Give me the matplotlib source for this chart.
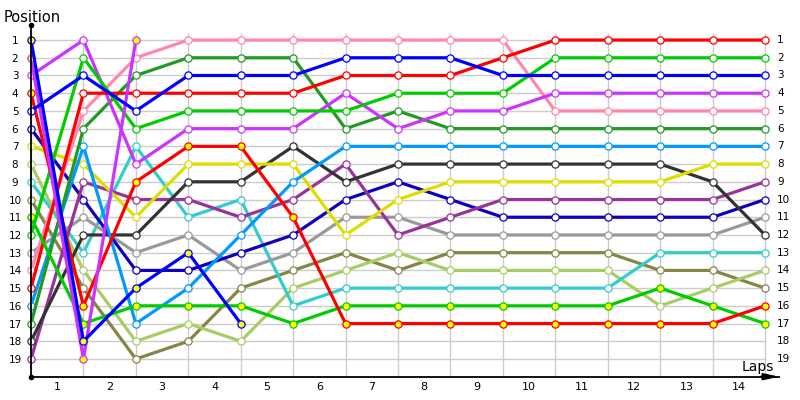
import matplotlib.pyplot as plt

laps = list(range(15))
lap_labels = [str(i) for i in range(1, 15)]
positions = list(range(1, 20))

# positions per lap boundary (0..14)
red = [15, 4, 4, 4, 4, 4, 3, 3, 3, 2, 1, 1, 1, 1, 1]
green = [12, 2, 6, 5, 5, 5, 5, 4, 4, 4, 2, 2, 2, 2, 2]
blue = [5, 3, 5, 3, 3, 3, 2, 2, 2, 3, 3, 3, 3, 3, 3]
magenta = [3, 1, 8, 6, 6, 6, 4, 6, 5, 5, 4, 4, 4, 4, 4]
pink = [14, 5, 2, 1, 1, 1, 1, 1, 1, 1, 5, 5, 5, 5, 5]
dark_green = [17, 6, 3, 2, 2, 2, 6, 5, 6, 6, 6, 6, 6, 6, 6]
light_blue = [16, 7, 17, 15, 12, 9, 7, 7, 7, 7, 7, 7, 7, 7, 7]
yellow = [7, 8, 11, 8, 8, 8, 12, 10, 9, 9, 9, 9, 9, 8, 8]
purple = [19, 9, 10, 10, 11, 10, 8, 12, 11, 10, 10, 10, 10, 10, 9]
dark_blue = [6, 10, 14, 14, 13, 12, 10, 9, 10, 11, 11, 11, 11, 11, 10]
gray = [13, 11, 13, 12, 14, 13, 11, 11, 12, 12, 12, 12, 12, 12, 11]
dark_gray = [18, 12, 12, 9, 9, 7, 9, 8, 8, 8, 8, 8, 8, 9, 12]
teal = [9, 13, 7, 11, 10, 16, 15, 15, 15, 15, 15, 15, 13, 13, 13]
light_green = [8, 14, 18, 17, 18, 15, 14, 13, 14, 14, 14, 14, 16, 15, 14]
olive = [10, 15, 19, 18, 15, 14, 13, 14, 13, 13, 13, 13, 14, 14, 15]
red_2 = [4, 16, 9, 7, 7, 11, 17, 17, 17, 17, 17, 17, 17, 17, 16]
green_2 = [11, 17, 16, 16, 16, 17, 16, 16, 16, 16, 16, 16, 15, 16, 17]
blue_2 = [1, 18, 15, 13, 17]
magenta_2 = [2, 19, 1]

fig = plt.figure(figsize=(8, 4), dpi=100)
ax = fig.add_axes([31 / 800, 23.3 / 400, 748 / 800, 351.7 / 400])
ax.set_xlim(0, 748 / 52.43)
ax.set_ylim(20, 0.15)

# grid
ax.vlines(laps, 0.6, 20, color="#cccccc", lw=1, zorder=0)
ax.hlines(positions, 0, 14, color="#cccccc", lw=1, zorder=0)

series = [
    (olive, "#858545", "white"),
    (light_green, "#aacc66", "white"),
    (teal, "#33cccc", "white"),
    (gray, "#999999", "white"),
    (dark_blue, "#1100bb", "white"),
    (purple, "#993399", "white"),
    (dark_gray, "#333333", "white"),
    (yellow, "#dddd00", "white"),
    (light_blue, "#0099ff", "white"),
    (dark_green, "#229922", "white"),
    (pink, "#ff88aa", "white"),
    (magenta, "#cc33ff", "white"),
    (green, "#00cc00", "white"),
    (red, "#ff0000", "white"),
    (green_2, "#00cc00", "#ffff00"),
    (red_2, "#ff0000", "#ffff00"),
    (magenta_2, "#cc33ff", "#ffff00"),
    (blue, "#0000ff", "white"),
    (blue_2, "#0000ff", "#ffff00"),
]
for pos, col, face in series:
    ax.plot(laps[:len(pos)], pos, color=col, lw=2.3, marker="o", ms=5.2,
            mfc=face, mec=col, mew=0.9, clip_on=False)

ax.set_yticks(positions)
ax.set_yticklabels([str(p) for p in positions], ha="center")
ax.tick_params(axis="y", length=0, pad=11.5, labelsize=7.5)
ax.set_xticks([i - 0.5 for i in range(1, 15)])
ax.set_xticklabels(lap_labels)
ax.tick_params(axis="x", length=0, pad=4, labelsize=8)

for p in positions:
    ax.text(14.23, p, str(p), ha="left", va="center", fontsize=7.5)

for side in ["top", "right"]:
    ax.spines[side].set_visible(False)
ax.spines["left"].set_linewidth(1.3)
ax.spines["bottom"].set_linewidth(1.3)
ax.plot([0, 0], [0.15, 20], "ko", ms=3, clip_on=False)
ax.annotate("", xy=(1.0, 0), xytext=(0.975, 0), xycoords="axes fraction",
            arrowprops=dict(arrowstyle="-|>,head_length=0.9,head_width=0.2",
                            color="k", lw=1.3, shrinkA=0, shrinkB=0),
            annotation_clip=False)

fig.text(4 / 800, 1 - 22 / 400, "Position", fontsize=10.5, va="baseline")
ax.text(14.17, 19.85, "Laps", ha="right", va="bottom", fontsize=10)

plt.savefig("out.png")
